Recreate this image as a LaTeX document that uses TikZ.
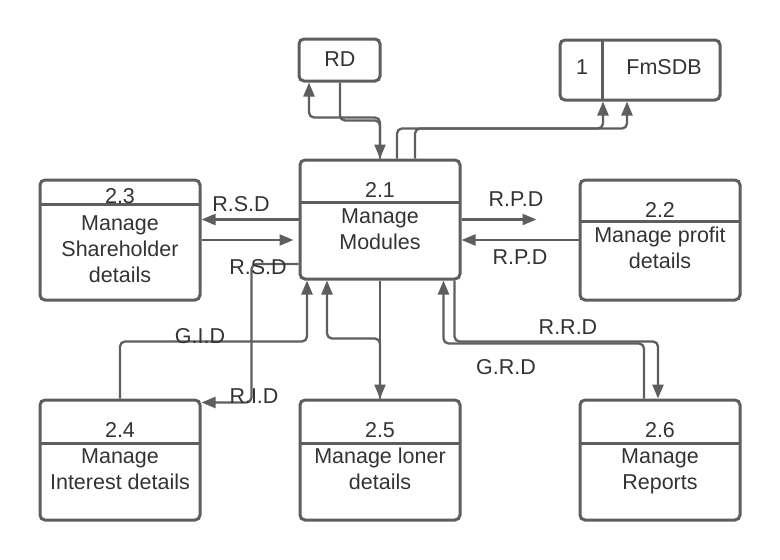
\documentclass[tikz,border=0pt]{standalone}
\usepackage{fontspec}
\setmainfont{Liberation Sans}
\usetikzlibrary{arrows.meta,calc,positioning}
\definecolor{LineGray}{RGB}{94,94,94}
\definecolor{TextGray}{RGB}{51,51,51}

\begin{document}
\begin{tikzpicture}[x=1pt, y=-1pt,
	box/.style={draw=LineGray, line width=3pt, rounded corners=5pt, inner sep=0pt, minimum width=160pt, minimum height=120pt},
	flow/.style={draw=LineGray, line width=2.3pt, rounded corners=5pt, -{Triangle[length=14pt, width=11pt]}},
	txt/.style={text=TextGray, font=\fontsize{21.5}{26}\selectfont, inner sep=0pt, align=center, anchor=base}
	]
	\useasboundingbox (0,0) rectangle (780,560);
	% 外部实体与数据存储
	\node[box, minimum width=81pt, minimum height=42pt] (rd) at (339.5,60) {};
	\node[txt] at (340,66) {RD};
	\node[box, minimum height=60pt] (fmsdb) at (640,70) {};
	\draw[LineGray, line width=3pt] (602,40) -- (602,100);
	\node[txt] at (582,74) {1};
	\node[txt] at (664,74) {FmSDB};
	% 处理框
	\node[box, minimum height=119pt] (p21) at (380,219.5) {};
	\node[box] (p22) at (660,240) {};
	\node[box] (p23) at (120,240) {};
	\node[box] (p24) at (120,460) {};
	\node[box] (p25) at (380,460) {};
	\node[box] (p26) at (660,460) {};
	% 标题分隔线
	\draw[LineGray, line width=3pt] (300,202) -- (460,202);
	\draw[LineGray, line width=3pt] (580,221) -- (740,221);
	\draw[LineGray, line width=3pt] (40,204) -- (200,204);
	\foreach \x in {40,300,580}
		\draw[LineGray, line width=3pt] (\x,443) -- (\x+160,443);
	% 编号与名称（多行文字以末行基线定位）
	\node[txt] at (380,197) {2.1};
	\node[txt] at (380,249) {Manage\\Modules};
	\node[txt] at (660,217) {2.2};
	\node[txt] at (660,268) {Manage profit\\details};
	\node[txt] at (120,203) {2.3};
	\node[txt] at (120,282) {Manage\\Shareholder\\details};
	\node[txt] at (120,437) {2.4};
	\node[txt] at (120,489) {Manage\\Interest details};
	\node[txt] at (380,437) {2.5};
	\node[txt] at (380,489) {Manage loner\\details};
	\node[txt] at (660,437) {2.6};
	\node[txt] at (660,489) {Manage\\Reports};
	% 2.1 与 RD、FmSDB
	\draw[flow] (p21.north) -- ++(0,-41) -| ([xshift=-30.5pt]rd.south);
	\draw[flow] ([xshift=0.5pt]rd.south) -- ++(0,38) -| (p21.north);
	\draw[flow] ([xshift=17pt]p21.north) -- ++(0,-30) -| ([xshift=-37pt]fmsdb.south);
	\draw[flow] ([xshift=35pt]p21.north) -- ++(0,-30) -| ([xshift=-13pt]fmsdb.south);
	% 2.1 与 2.3、2.2
	\draw[flow] (p21.west) -- (p21.west -| p23.east);
	\draw[flow] (p23.east) -- ([xshift=-5pt]p23.east -| p21.west);
	\draw[flow] (p21.east) -- ([xshift=-42pt]p22.west |- p21.east);
	\draw[flow] (p22.west) -- (p22.west -| p21.east);
	% 2.1 与 2.4、2.5、2.6
	\draw[flow] ($(p21.west)+(0,44.5)$) -| ($(p24.north east)+(50,4)$) -- ($(p24.north east)+(0,4)$);
	\draw[flow] (p24.north) |- ($(p21.south)+(-73,61)$) -- ($(p21.south)+(-73,0)$);
	\draw[flow] (p21.south) -- (p25.north);
	\draw[flow] (p25.north) -- ++(0,-60) -| ($(p21.south)+(-53,0)$);
	\draw[flow] ($(p21.south east)+(-7,0)$) -- ++(0,61) -| ($(p26.north)+(-2,0)$);
	\draw[flow] ($(p26.north)+(-16,0)$) -- ++(0,-55) -| ($(p21.south east)+(-18,0)$);
	% 数据流标签
	\node[txt] at (241,211) {R.S.D};
	\node[txt] at (258,274) {R.S.D};
	\node[txt] at (516,206) {R.P.D};
	\node[txt] at (520,264) {R.P.D};
	\node[txt] at (200,343) {G.I.D};
	\node[txt] at (254,403) {R.I.D};
	\node[txt] at (568,334) {R.R.D};
	\node[txt] at (506,374) {G.R.D};
\end{tikzpicture}
\end{document}
